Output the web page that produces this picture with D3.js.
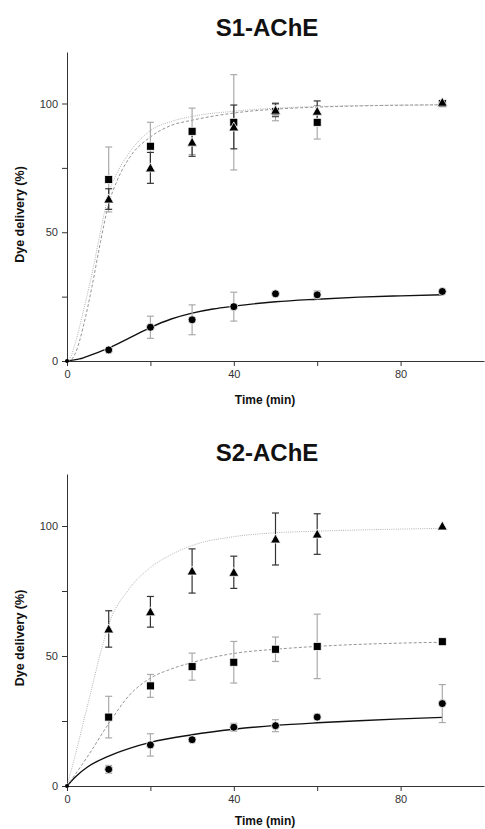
<!DOCTYPE html>
<html><head><meta charset="utf-8">
<script src="https://cdn.jsdelivr.net/npm/d3@7"></script>
<style>
body{margin:0;background:#fff;}
svg{display:block;font-family:"Liberation Sans",Arial,sans-serif;}
</style></head>
<body><svg id="c" width="485" height="829"></svg>
<script>
const time = [10, 20, 30, 40, 50, 60, 90];
const xTicks = [0, 20, 40, 60, 80];
const xLabels = [0, 40, 80];
const yTicks = [0, 25, 50, 75, 100];
const yLabels = [0, 50, 100];

// S1-AChE
const s1Square = [70.5, 83.4, 89.2, 92.7, 96.8, 92.7, 100];
const s1SquareErr = [12.6, 9.3, 9, 18.5, 3.5, 6.5, 0.8];
const s1Triangle = [62.9, 75, 85, 90.9, 97.4, 97, 100.5];
const s1TriangleErr = [4, 6, 5.5, 8.5, 2.5, 4, 0.8];
const s1Circle = [4.3, 13.1, 16, 21.1, 26.1, 25.7, 27];
const s1CircleErr = [1, 4.3, 5.8, 5.6, 1, 1.5, 0.8];
const s1FitSquare = [[0,0],[1,0.5],[2,3],[4,14],[6,29],[8,46],[10,61],[12,70],[15,79],[20,87],[25,91.5],[30,93.5],[40,96.3],[50,97.8],[60,98.6],[90,99.5]];
const s1FitTriangle = [[0,0],[1,2],[2,7],[4,20],[6,34],[8,50],[10,65],[12,73],[15,81],[20,89.5],[25,93],[30,95],[40,97],[50,98.2],[60,98.8],[90,99.5]];
const s1FitCircle = [[0,0],[3,0.8],[6,2.5],[10,5],[15,9],[20,13],[25,16.3],[30,18.6],[35,20.2],[40,21.3],[50,23],[60,24],[70,24.8],[80,25.3],[90,25.7]];

// S2-AChE
const s2Triangle = [60.4, 67, 82.7, 82.2, 95, 96.9, 100];
const s2TriangleErr = [7, 5.9, 8.5, 6.2, 10, 7.8, 0];
const s2Square = [26.5, 38.5, 45.9, 47.6, 52.6, 53.7, 55.5];
const s2SquareErr = [8, 4.4, 5.2, 8, 4.7, 12.4, 0];
const s2Circle = [6.4, 15.8, 17.8, 22.6, 23.2, 26.5, 31.7];
const s2CircleErr = [1.5, 4.3, 1, 1.5, 2.3, 1, 7.3];
const s2FitTriangle = [[0,0],[2,12],[4,25],[6,38],[8,51],[10,62],[15,76],[20,84],[25,89],[30,92.5],[40,95.9],[50,97.4],[60,98],[90,99.1]];
const s2FitSquare = [[0,0],[5,11.5],[10,24],[15,35],[20,41.5],[25,45],[30,47.5],[40,51],[50,52.6],[60,53.7],[90,55.3]];
const s2FitCircle = [[0,0],[2,3.5],[5,7.4],[10,11.5],[15,14.5],[20,16.8],[30,19.7],[40,21.8],[50,23.3],[60,24.3],[70,25.1],[80,25.8],[90,26.4]];

const panels = [
  {title: "S1-AChE", titleY: 36, top: 52, bottom: 361, xTitleY: 404,
   series: [
     {vals: s1Circle, err: s1CircleErr, fit: s1FitCircle, shape: "circle", errColor: "#aaa", fitStyle: "solid"},
     {vals: s1Square, err: s1SquareErr, fit: s1FitSquare, shape: "square", errColor: "#aaa", fitStyle: "dashed"},
     {vals: s1Triangle, err: s1TriangleErr, fit: s1FitTriangle, shape: "triangle", errColor: "#333", fitStyle: "dotted"}
   ]},
  {title: "S2-AChE", titleY: 461, top: 474, bottom: 786, xTitleY: 825,
   series: [
     {vals: s2Circle, err: s2CircleErr, fit: s2FitCircle, shape: "circle", errColor: "#aaa", fitStyle: "solid"},
     {vals: s2Square, err: s2SquareErr, fit: s2FitSquare, shape: "square", errColor: "#aaa", fitStyle: "dashed"},
     {vals: s2Triangle, err: s2TriangleErr, fit: s2FitTriangle, shape: "triangle", errColor: "#333", fitStyle: "dotted"}
   ]}
];

const svg = d3.select("#c");
const x = d3.scaleLinear().domain([0, 100]).range([67, 484]);
const fitStyles = {
  solid: {stroke: "#111", width: 1.4, dash: null},
  dashed: {stroke: "#888", width: 0.9, dash: "3,2"},
  dotted: {stroke: "#aaa", width: 0.9, dash: "1,1.2"}
};

panels.forEach(p => {
  const y = d3.scaleLinear().domain([0, 120]).range([p.bottom, p.top]);
  const g = svg.append("g");

  g.append("text").attr("x", 267).attr("y", p.titleY).attr("text-anchor", "middle")
    .attr("font-size", 24).attr("font-weight", "bold").attr("fill", "#111").text(p.title);

  const xa = g.append("g").attr("transform", `translate(0,${p.bottom})`)
    .call(d3.axisBottom(x).tickValues(xTicks).tickSize(5).tickSizeOuter(0).tickPadding(4)
      .tickFormat(d => xLabels.includes(d) ? d : ""));
  const ya = g.append("g").attr("transform", `translate(67,0)`)
    .call(d3.axisLeft(y).tickValues(yTicks).tickSize(5).tickSizeOuter(0).tickPadding(4)
      .tickFormat(d => yLabels.includes(d) ? d : ""));
  [xa, ya].forEach(a => {
    a.select(".domain").attr("stroke", "#333");
    a.selectAll(".tick line").attr("stroke", "#333");
    a.selectAll(".tick text").attr("fill", "#333").attr("font-size", 11)
      .attr("font-family", "Liberation Sans, Arial, sans-serif");
  });

  g.append("text").attr("x", 265).attr("y", p.xTitleY).attr("text-anchor", "middle")
    .attr("font-size", 12).attr("font-weight", "bold").attr("fill", "#111").text("Time (min)");
  const ymid = (p.top + p.bottom) / 2 + 8;
  g.append("text").attr("transform", `translate(24,${ymid}) rotate(-90)`).attr("text-anchor", "middle")
    .attr("font-size", 12.5).attr("font-weight", "bold").attr("fill", "#111").text("Dye delivery (%)");

  const line = d3.line().x(d => x(d[0])).y(d => y(d[1])).curve(d3.curveMonotoneX);
  p.series.forEach(s => {
    const st = fitStyles[s.fitStyle];
    g.append("path").datum(s.fit).attr("d", line).attr("fill", "none")
      .attr("stroke", st.stroke).attr("stroke-width", st.width)
      .attr("stroke-dasharray", st.dash);
  });

  p.series.forEach(s => {
    const eg = g.append("g").attr("stroke", s.errColor).attr("stroke-width", 1.2);
    time.forEach((t, i) => {
      const e = s.err[i];
      if (e < 1.5) return;
      const cx = x(t), y1 = y(s.vals[i] + e), y2 = y(s.vals[i] - e);
      eg.append("line").attr("x1", cx).attr("x2", cx).attr("y1", y1).attr("y2", y2);
      eg.append("line").attr("x1", cx - 3.5).attr("x2", cx + 3.5).attr("y1", y1).attr("y2", y1);
      eg.append("line").attr("x1", cx - 3.5).attr("x2", cx + 3.5).attr("y1", y2).attr("y2", y2);
    });
  });

  p.series.forEach(s => {
    const mg = g.append("g").attr("fill", "#000").attr("stroke", "#fff").attr("stroke-width", 0.8);
    time.forEach((t, i) => {
      const cx = x(t), cy = y(s.vals[i]);
      if (s.shape === "circle") {
        mg.append("circle").attr("cx", cx).attr("cy", cy).attr("r", 4);
      } else if (s.shape === "square") {
        mg.append("rect").attr("x", cx - 4).attr("y", cy - 4).attr("width", 8).attr("height", 8);
      } else {
        mg.append("path").attr("d", `M${cx},${cy - 5}L${cx + 5},${cy + 4}L${cx - 5},${cy + 4}Z`);
      }
    });
  });
  g.append("circle").attr("cx", x(0)).attr("cy", y(0)).attr("r", 2).attr("fill", "#000");
});
</script></body></html>
